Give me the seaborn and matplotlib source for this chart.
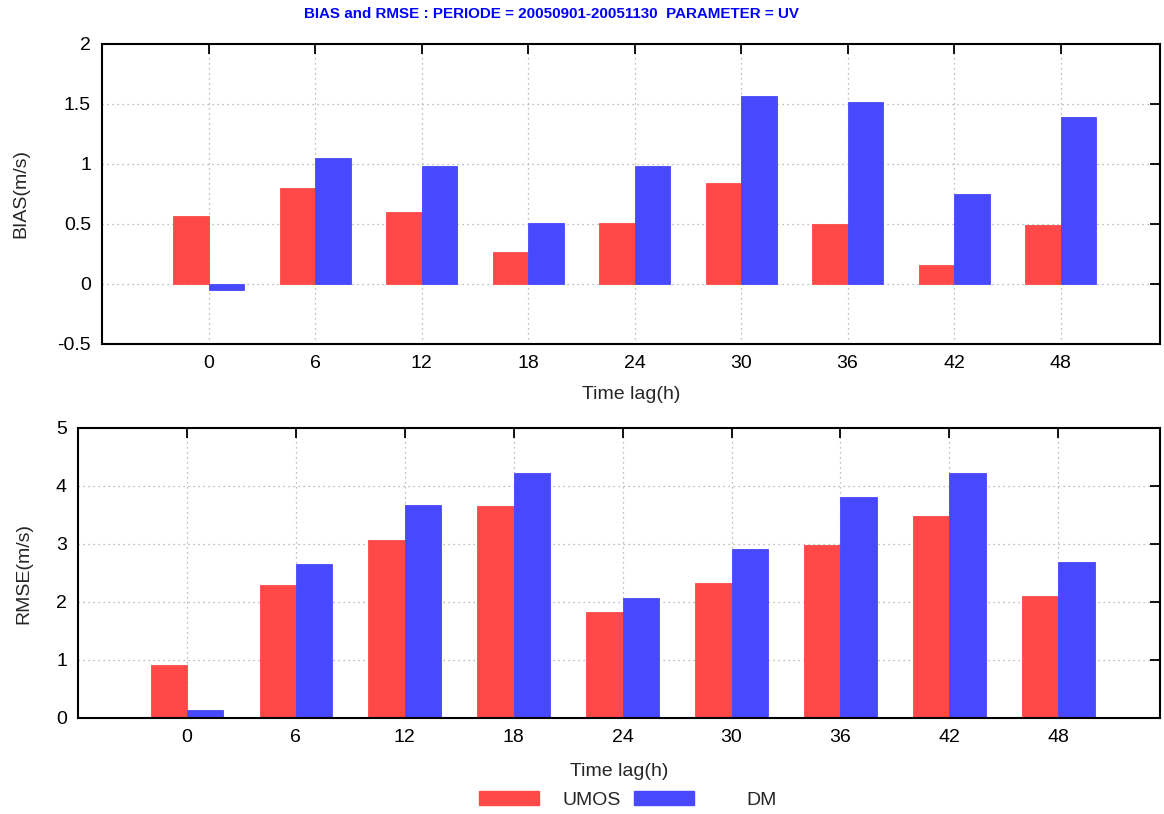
import matplotlib
matplotlib.use("Agg")
import matplotlib.pyplot as plt
import seaborn as sns
import pandas as pd

lags = [0, 6, 12, 18, 24, 30, 36, 42, 48]
models = ["UMOS", "DM"]
bias_umos = [0.57, 0.80, 0.60, 0.27, 0.51, 0.84, 0.50, 0.16, 0.49]
bias_dm = [-0.05, 1.05, 0.98, 0.51, 0.98, 1.57, 1.52, 0.75, 1.39]
rmse_umos = [0.91, 2.30, 3.07, 3.65, 1.83, 2.32, 2.98, 3.48, 2.11]
rmse_dm = [0.13, 2.65, 3.68, 4.22, 2.07, 2.91, 3.81, 4.22, 2.69]
colors = {"UMOS": "#ff4848", "DM": "#4848ff"}

title = "BIAS and RMSE : PERIODE = 20050901-20051130  PARAMETER = UV"

def frame(a, b):
    return pd.DataFrame({
        "lag": lags * 2,
        "val": a + b,
        "model": ["UMOS"] * len(lags) + ["DM"] * len(lags),
    })

sns.set_style("white")
plt.rcParams["font.family"] = ["Liberation Sans", "DejaVu Sans"]
FS = 14

W, H = 1164, 814
fig = plt.figure(figsize=(W / 100, H / 100), dpi=100)

def box(l, t, r, b):
    return [l / W, 1 - b / H, (r - l) / W, (b - t) / H]

ax1 = fig.add_axes(box(102, 44, 1160, 344))
ax2 = fig.add_axes(box(78, 428, 1160, 718))

def style(ax, ylim, yticks, ylabel, ylpad, xlpad):
    ax.set_xlim(-6, 53.6)
    ax.set_ylim(*ylim)
    ax.set_xticks(lags)
    ax.set_xticklabels([str(v) for v in lags])
    ax.set_yticks(yticks)
    ax.set_yticklabels([f"{v:g}" for v in yticks])
    ax.set_axisbelow(True)
    ax.grid(True, linestyle=(0, (1, 3)), color="#a8a8a8", linewidth=0.9)
    ax.tick_params(direction="in", top=True, right=True, length=7, width=1.3,
                   labelsize=FS, colors="black", pad=8)
    ax.tick_params(axis="y", pad=8)
    for s in ax.spines.values():
        s.set_linewidth(1.5)
        s.set_color("black")
    ax.set_xlabel("Time lag(h)", fontsize=FS, labelpad=xlpad)
    ax.set_ylabel(ylabel, fontsize=FS, labelpad=ylpad)

for ax, a, b, ylim, yt, yl, lp, xp in [
    (ax1, bias_umos, bias_dm, (-0.5, 2), [-0.5, 0, 0.5, 1, 1.5, 2], "BIAS(m/s)", 20, 10),
    (ax2, rmse_umos, rmse_dm, (0, 5), [0, 1, 2, 3, 4, 5], "RMSE(m/s)", 17, 12),
]:
    sns.barplot(data=frame(a, b), x="lag", y="val", hue="model", hue_order=models,
                palette=colors, native_scale=True, width=2 / 3, saturation=1,
                errorbar=None, ax=ax, linewidth=0.6, edgecolor=None)
    for p in ax.patches:
        p.set_edgecolor(p.get_facecolor())
    leg = ax.get_legend()
    if leg is not None:
        leg.remove()
    style(ax, ylim, yt, yl, lp, xp)

for m, xpx, tpad in [("UMOS", 479, 1.2), ("DM", 634, 2.7)]:
    h = plt.Rectangle((0, 0), 1, 1, facecolor=colors[m], edgecolor=colors[m])
    fig.legend([h], [m], loc="center left", bbox_to_anchor=(xpx / W, 1 - 800 / H),
               frameon=False, fontsize=FS, handlelength=3.1, handleheight=0.75,
               handletextpad=tpad, borderpad=0, borderaxespad=0)

fig.text(552 / W, 1 - 14 / H, title, ha="center", va="center", color="#0000ff",
         fontsize=10.9, fontweight="bold", family=["Liberation Sans", "DejaVu Sans"])

fig.savefig("out.png", dpi=100)
